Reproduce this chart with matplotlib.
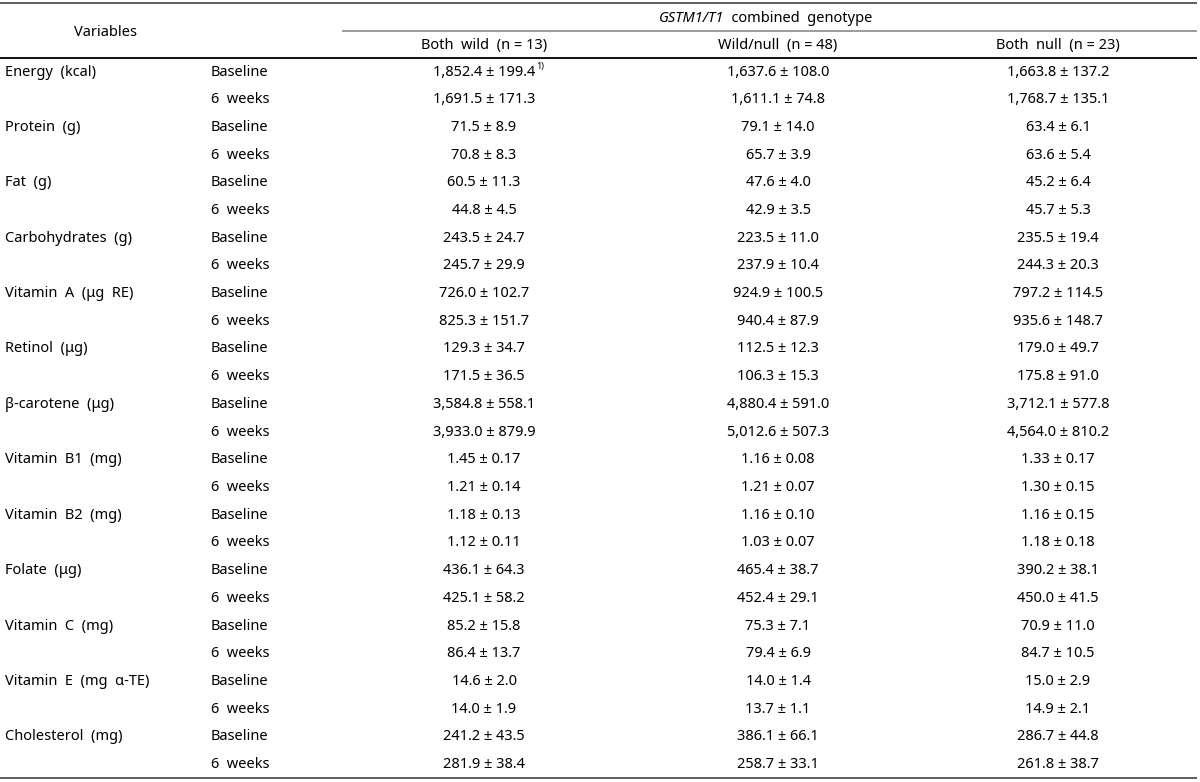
import matplotlib
matplotlib.use("Agg")
import matplotlib.pyplot as plt

variables = ["Energy  (kcal)", "Protein  (g)", "Fat  (g)", "Carbohydrates  (g)",
             "Vitamin  A  (μg  RE)", "Retinol  (μg)", "β-carotene  (μg)",
             "Vitamin  B1  (mg)", "Vitamin  B2  (mg)", "Folate  (μg)",
             "Vitamin  C  (mg)", "Vitamin  E  (mg  α-TE)", "Cholesterol  (mg)"]
decimals = [1, 1, 1, 1, 1, 1, 1, 2, 2, 1, 1, 1, 1]
times = ["Baseline", "6  weeks"]
groups = ["Both  wild  (n = 13)", "Wild/null  (n = 48)", "Both  null  (n = 23)"]

bw_base_mean = [1852.4, 71.5, 60.5, 243.5, 726.0, 129.3, 3584.8, 1.45, 1.18, 436.1, 85.2, 14.6, 241.2]
bw_base_sd = [199.4, 8.9, 11.3, 24.7, 102.7, 34.7, 558.1, 0.17, 0.13, 64.3, 15.8, 2.0, 43.5]
bw_6w_mean = [1691.5, 70.8, 44.8, 245.7, 825.3, 171.5, 3933.0, 1.21, 1.12, 425.1, 86.4, 14.0, 281.9]
bw_6w_sd = [171.3, 8.3, 4.5, 29.9, 151.7, 36.5, 879.9, 0.14, 0.11, 58.2, 13.7, 1.9, 38.4]
wn_base_mean = [1637.6, 79.1, 47.6, 223.5, 924.9, 112.5, 4880.4, 1.16, 1.16, 465.4, 75.3, 14.0, 386.1]
wn_base_sd = [108.0, 14.0, 4.0, 11.0, 100.5, 12.3, 591.0, 0.08, 0.10, 38.7, 7.1, 1.4, 66.1]
wn_6w_mean = [1611.1, 65.7, 42.9, 237.9, 940.4, 106.3, 5012.6, 1.21, 1.03, 452.4, 79.4, 13.7, 258.7]
wn_6w_sd = [74.8, 3.9, 3.5, 10.4, 87.9, 15.3, 507.3, 0.07, 0.07, 29.1, 6.9, 1.1, 33.1]
bn_base_mean = [1663.8, 63.4, 45.2, 235.5, 797.2, 179.0, 3712.1, 1.33, 1.16, 390.2, 70.9, 15.0, 286.7]
bn_base_sd = [137.2, 6.1, 6.4, 19.4, 114.5, 49.7, 577.8, 0.17, 0.15, 38.1, 11.0, 2.9, 44.8]
bn_6w_mean = [1768.7, 63.6, 45.7, 244.3, 935.6, 175.8, 4564.0, 1.30, 1.18, 450.0, 84.7, 14.9, 261.8]
bn_6w_sd = [135.1, 5.4, 5.3, 20.3, 148.7, 91.0, 810.2, 0.15, 0.18, 41.5, 10.5, 2.1, 38.7]

cells = [[(bw_base_mean, bw_base_sd), (bw_6w_mean, bw_6w_sd)],
         [(wn_base_mean, wn_base_sd), (wn_6w_mean, wn_6w_sd)],
         [(bn_base_mean, bn_base_sd), (bn_6w_mean, bn_6w_sd)]]

FONT = "Noto Sans"
FS = 10.5
plt.rcParams['font.family'] = [FONT, 'DejaVu Sans']

fig = plt.figure(figsize=(12, 7.82), dpi=100)
ax = fig.add_axes([0, 0, 1, 1])
ax.set_xlim(0, 1200)
ax.set_ylim(782, 0)
ax.axis("off")

# layout
col_var_x = 5
col_time_x = 211
col_centers = [484, 778, 1058]
row0 = 72
row_step = 27.7

# rules
ax.plot([0, 1197], [3, 3], color="#333333", lw=1.1, solid_capstyle="butt")
ax.plot([342, 1197], [31, 31], color="#8a8a8a", lw=1.2, solid_capstyle="butt")
ax.plot([0, 1197], [58, 58], color="#111111", lw=1.4, solid_capstyle="butt")
ax.plot([0, 1197], [778, 778], color="#333333", lw=1.1, solid_capstyle="butt")

# header
ax.text(105, 32, "Variables", ha="center", va="center", fontsize=FS)
ax.text(724, 18, "GSTM1/T1", ha="right", va="center", fontsize=FS, style="italic")
ax.text(724, 18, "  combined  genotype", ha="left", va="center", fontsize=FS)
for cx, g in zip(col_centers, groups):
    ax.text(cx, 45, g, ha="center", va="center", fontsize=FS)

# body
r = 0
for i, v in enumerate(variables):
    for t, tname in enumerate(times):
        y = row0 + r * row_step
        if t == 0:
            ax.text(col_var_x, y, v, ha="left", va="center", fontsize=FS)
        ax.text(col_time_x, y, tname, ha="left", va="center", fontsize=FS)
        for g in range(3):
            m, s = cells[g][t]
            d = decimals[i]
            s_txt = f"{m[i]:,.{d}f} ± {s[i]:.{d}f}"
            txt = ax.text(col_centers[g], y, s_txt, ha="center", va="center", fontsize=FS)
            if i == 0 and t == 0 and g == 0:
                ax.annotate("1)", xy=(1, 0.85), xycoords=txt, xytext=(1, 0),
                            textcoords="offset points", fontsize=6.5,
                            ha="left", va="center")
        r += 1

fig.savefig("out.png", dpi=100)
